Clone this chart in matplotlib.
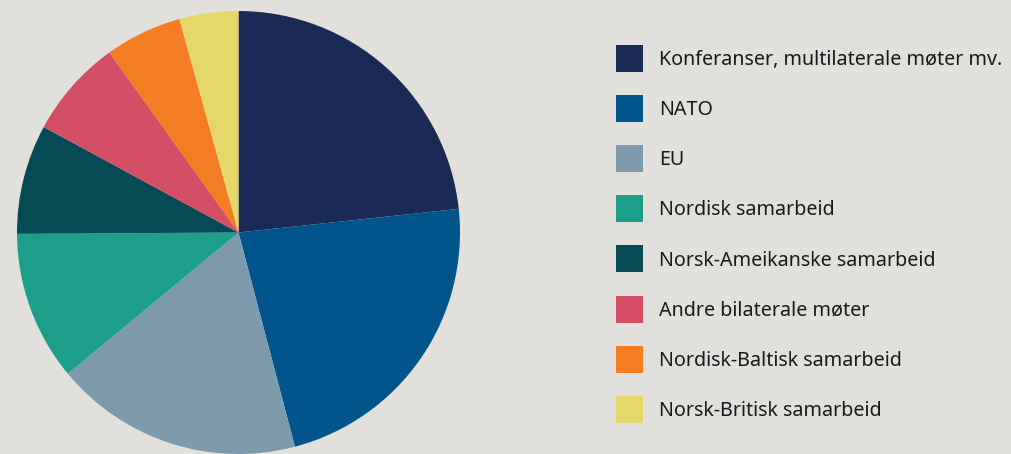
import matplotlib
matplotlib.use("Agg")
import matplotlib.pyplot as plt
from matplotlib.patches import Patch, Rectangle
from matplotlib.legend_handler import HandlerPatch

# share of meetings per category (in %)
labels = [
    "Konferanser, multilaterale møter mv.",
    "NATO",
    "EU",
    "Nordisk samarbeid",
    "Norsk-Ameikanske samarbeid",
    "Andre bilaterale møter",
    "Nordisk-Baltisk samarbeid",
    "Norsk-Britisk samarbeid",
]
shares = [23.3, 22.6, 18.1, 10.9, 8.0, 7.2, 5.6, 4.3]
colors = [
    "#1b2a55",
    "#01558b",
    "#7d9bac",
    "#1c9e8b",
    "#064a56",
    "#d44f65",
    "#f47c22",
    "#e6d76b",
]

bg = "#e2e0dc"
plt.rcParams["font.family"] = ["Noto Sans", "DejaVu Sans"]


def square(legend, orig_handle, xdescent, ydescent, width, height, fontsize):
    # square swatch, centred on the row
    return Rectangle(
        (-xdescent, -ydescent - (width - height) / 2), width, width
    )


fig = plt.figure(figsize=(10.11, 4.54), dpi=100)
fig.patch.set_facecolor(bg)

# pie axes: center (238.5, 232.5) px, radius 221.5 px
ax = fig.add_axes([17 / 1011, 0, 443 / 1011, 443 / 454])
ax.set_facecolor(bg)
ax.pie(
    shares,
    colors=colors,
    startangle=90,
    counterclock=False,
    radius=1,
    wedgeprops={"linewidth": 0},
)
ax.set_xlim(-1, 1)
ax.set_ylim(-1, 1)
ax.set_aspect("equal")
ax.axis("off")

handles = [Patch(facecolor=c, edgecolor="none") for c in colors]
fs = 14.2
fig.legend(
    handles,
    labels,
    loc="upper left",
    bbox_to_anchor=(616 / 1011, 1 - 47 / 454),
    frameon=False,
    fontsize=fs,
    handlelength=1.37,
    handleheight=1.37,
    handletextpad=0.8,
    labelspacing=1.39,
    borderpad=0,
    borderaxespad=0,
    labelcolor="#1a1a1a",
    handler_map={Patch: HandlerPatch(patch_func=square)},
)

fig.savefig("out.png", dpi=100, facecolor=bg)
